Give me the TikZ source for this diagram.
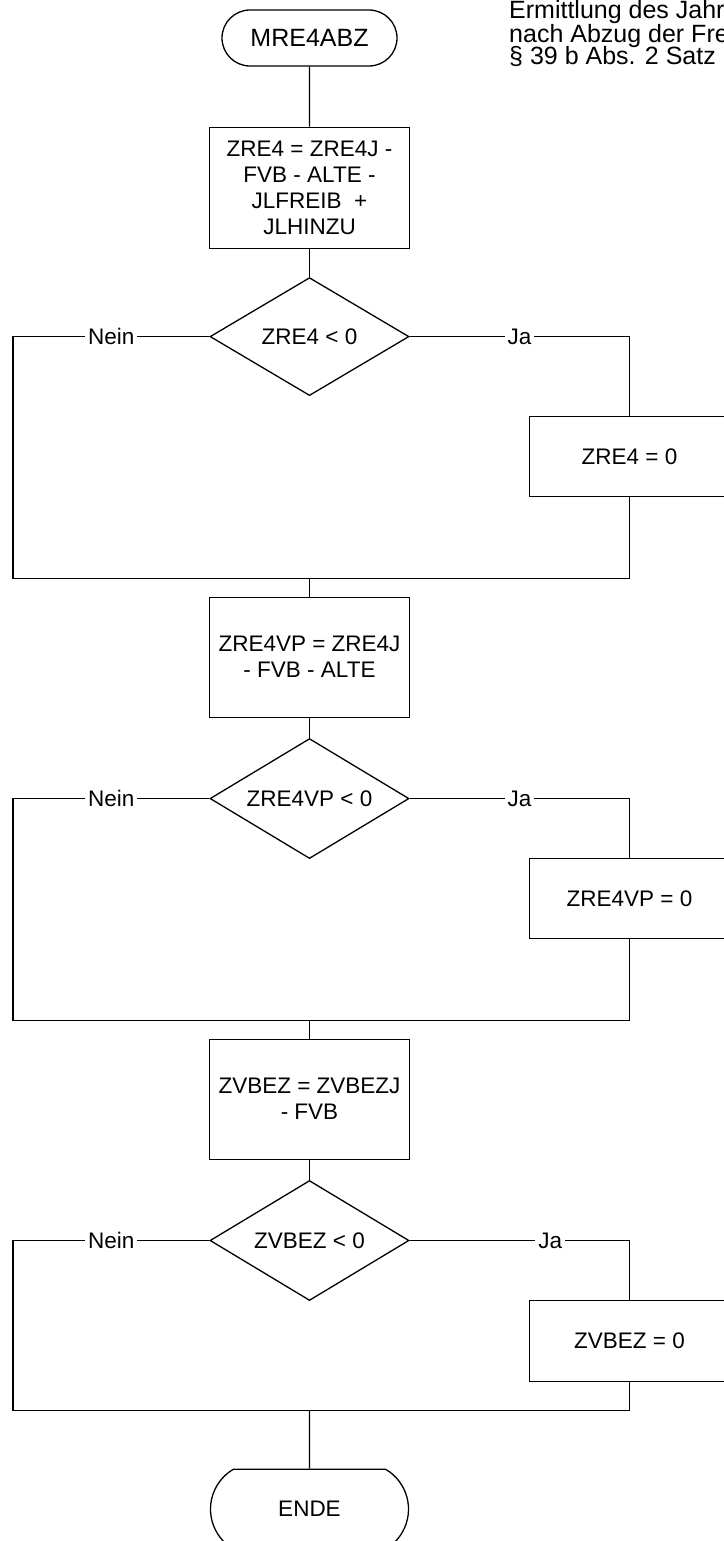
\documentclass[tikz,border=0pt]{standalone}
\usepackage{fontspec}
\setmainfont{Liberation Sans}
\usetikzlibrary{shapes.geometric, shapes.misc, positioning, calc}

\begin{document}
\begin{tikzpicture}[
    x=1pt, y=1pt,
    every node/.style={font=\fontsize{22.5pt}{26pt}\selectfont},
    terminal/.style={rounded rectangle, draw, line width=1.3pt, minimum width=177pt, minimum height=56pt, inner sep=1pt},
    process/.style={rectangle, draw, line width=1.3pt, minimum width=200pt, minimum height=120pt, align=center, inner sep=2pt},
    setzero/.style={rectangle, draw, line width=1.3pt, minimum width=200pt, minimum height=80pt},
    decision/.style={diamond, draw, line width=1.3pt, minimum width=199pt, minimum height=118pt, aspect=1.7, inner sep=0pt},
    flow/.style={line width=1.3pt},
    answer/.style={fill=white, inner xsep=3pt, inner ysep=1pt},
    note/.style={anchor=base west, inner sep=0pt, font=\fontsize{25pt}{28pt}\selectfont}
]

\useasboundingbox[fill=white] (0,0) rectangle (723,-1541);

% Beschreibung oben rechts
\node[note] (note1) at (509,-19) {Ermittlung des Jahr};
\node[note] (note2) at ($(note1.base west)+(0,-24)$) {nach Abzug der Fre};
\node[note] (note3) at ($(note2.base west)+(0,-22)$) {§ 39 b Abs. 2 Satz};

\node[terminal, font=\fontsize{25pt}{28pt}\selectfont] (start) at (309.5,-38) {MRE4ABZ};

\node[process, below=60pt of start, minimum height=121pt] (calcZRE4) {ZRE4 = ZRE4J -\\FVB - ALTE -\\JLFREIB\ \ +\\JLHINZU};
\node[decision, below=28pt of calcZRE4] (testZRE4) {ZRE4 < 0};
\node[setzero] (zeroZRE4) at ($(testZRE4)+(320,-120)$) {ZRE4 = 0};
\coordinate (joinZRE4) at ($(testZRE4)+(0,-242)$);

\node[process, below=18pt of joinZRE4] (calcVP) {ZRE4VP = ZRE4J\\- FVB - ALTE};
\node[decision, below=20pt of calcVP, minimum height=120pt] (testVP) {ZRE4VP < 0};
\node[setzero] (zeroVP) at ($(testVP)+(320,-100)$) {ZRE4VP = 0};
\coordinate (joinVP) at ($(testVP)+(0,-222)$);

\node[process, below=18pt of joinVP] (calcZVBEZ) {ZVBEZ = ZVBEZJ\\- FVB};
\node[decision, below=20pt of calcZVBEZ, minimum height=120pt] (testZVBEZ) {ZVBEZ < 0};
\node[setzero, minimum height=81pt] (zeroZVBEZ) at ($(testZVBEZ)+(320,-100.5)$) {ZVBEZ = 0};
\coordinate (joinZVBEZ) at ($(testZVBEZ)+(0,-170)$);

\node[terminal, below=58pt of joinZVBEZ, minimum width=200pt, minimum height=80pt, rounded rectangle arc length=120] (ende) {ENDE};

\coordinate (rail) at (13,0);

\draw[flow] (start) -- (calcZRE4);
\draw[flow] (calcZRE4) -- (testZRE4);
\draw[flow] (testZRE4.west) -- node[answer] {Nein} (testZRE4.west -| rail) |- (joinZRE4);
\draw[flow] (testZRE4.east) -- node[answer] {Ja} (testZRE4.east -| zeroZRE4) -- (zeroZRE4.north);
\draw[flow] (zeroZRE4.south) |- (joinZRE4);
\draw[flow] (joinZRE4) -- (calcVP);

\draw[flow] (calcVP) -- (testVP);
\draw[flow] (testVP.west) -- node[answer] {Nein} (testVP.west -| rail) |- (joinVP);
\draw[flow] (testVP.east) -- node[answer] {Ja} (testVP.east -| zeroVP) -- (zeroVP.north);
\draw[flow] (zeroVP.south) |- (joinVP);
\draw[flow] (joinVP) -- (calcZVBEZ);

\draw[flow] (calcZVBEZ) -- (testZVBEZ);
\draw[flow] (testZVBEZ.west) -- node[answer] {Nein} (testZVBEZ.west -| rail) |- (joinZVBEZ);
\draw[flow] (testZVBEZ.east) -- node[answer, pos=0.64] {Ja} (testZVBEZ.east -| zeroZVBEZ) -- (zeroZVBEZ.north);
\draw[flow] (zeroZVBEZ.south) |- (joinZVBEZ);
\draw[flow] (joinZVBEZ) -- (ende);

\end{tikzpicture}
\end{document}
